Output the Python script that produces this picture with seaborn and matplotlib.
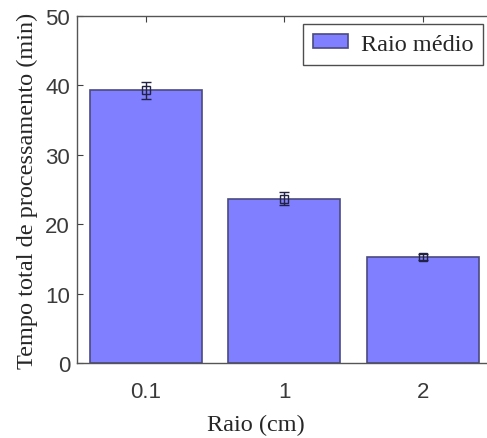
import numpy as np
import pandas as pd
import seaborn as sns
import matplotlib.pyplot as plt

# ===== data =====
raios = ['0.1', '1', '2']
tempo_medio = [39.3, 23.7, 15.3]
tempo_erro = [1.25, 0.95, 0.4]

df = pd.DataFrame({'raio': raios, 'tempo': tempo_medio})

sns.set_style('white')
plt.rcParams['font.family'] = ['Liberation Sans', 'DejaVu Sans']

fig = plt.figure(figsize=(4.87, 4.39), dpi=100)
ax = fig.add_axes([0.158, 0.171, 0.852, 0.790])

sns.barplot(data=df, x='raio', y='tempo', color='#7f7fff', saturation=1,
            width=0.81, edgecolor='#4a4a80', linewidth=1.2, errorbar=None,
            label='Raio médio', ax=ax)
ax.errorbar(np.arange(len(raios)), tempo_medio, yerr=tempo_erro, fmt='s',
            mfc='none', mec='#222244', ecolor='#222244', ms=6, mew=1,
            capsize=3.5, elinewidth=1)

ax.set_xlim(-0.5, 2.5)
ax.set_ylim(0, 50)
ax.set_yticks([0, 10, 20, 30, 40, 50])
ax.tick_params(direction='in', length=4, width=0.8, color='#404040',
               labelsize=16, labelcolor='#3a3a3a', top=True, left=True,
               bottom=False, right=False)
ax.tick_params(axis='x', pad=13)
ax.tick_params(axis='y', pad=5)
for s in ['left', 'bottom', 'top']:
    ax.spines[s].set_color('#555555')
    ax.spines[s].set_linewidth(1)
ax.spines['right'].set_visible(False)

serif = {'family': 'Liberation Serif', 'size': 17.5}
ax.set_xlabel('Raio (cm)', fontdict=serif)
ax.set_ylabel('Tempo total de processamento (min)', fontdict=serif)
ax.xaxis.set_label_coords(0.431, -0.148)
ax.yaxis.set_label_coords(-0.094, 0.5)

leg = ax.legend(loc='upper right', bbox_to_anchor=(0.978, 0.977),
                prop={'family': 'Liberation Serif', 'size': 17.5},
                frameon=True, fancybox=False, edgecolor='#222222',
                handlelength=1.45, handleheight=0.5, borderpad=0.4,
                handletextpad=0.5, borderaxespad=0)
leg.get_frame().set_linewidth(1)

fig.savefig('out.png', dpi=100)
